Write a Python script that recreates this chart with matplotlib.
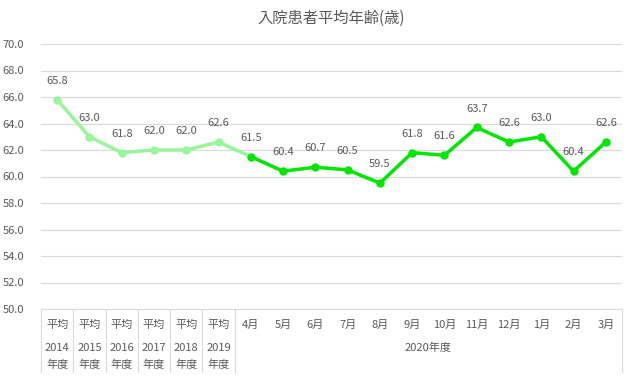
"""
入院患者平均年齢 line chart (annual averages + monthly FY2020).
"""

import matplotlib
matplotlib.use("Agg")
import matplotlib.pyplot as plt
import matplotlib.transforms as mtransforms

plt.rcParams['font.family'] = ['Noto Sans CJK JP', 'DejaVu Sans']

# data
annual_years = ['2014', '2015', '2016', '2017', '2018', '2019']
annual_values = [65.8, 63.0, 61.8, 62.0, 62.0, 62.6]
months = ['4月', '5月', '6月', '7月', '8月', '9月', '10月', '11月', '12月',
          '1月', '2月', '3月']
month_values = [61.5, 60.4, 60.7, 60.5, 59.5, 61.8, 61.6, 63.7, 62.6,
                63.0, 60.4, 62.6]
group_label = '2020年度'
title = '入院患者平均年齢(歳)'

text_color = '#595959'
grid_color = '#d9d9d9'
light_green = '#99f599'
bright_green = '#00e600'
fs = 8

fig = plt.figure(figsize=(6.34, 3.8), dpi=100)
ax = fig.add_axes([41 / 634, 1 - 309 / 380, 581 / 634, 265 / 380])

n_a = len(annual_values)
xa = list(range(n_a))
xm = list(range(n_a, n_a + len(months)))
all_values = annual_values + month_values

# light segment runs up to the first month point
ax.plot(xa + [xm[0]], annual_values + [month_values[0]], color=light_green,
        lw=2.5, solid_capstyle='round', zorder=3)
ax.plot(xa, annual_values, 'o', color=light_green, ms=5, zorder=4)
ax.plot(xm, month_values, color=bright_green, lw=2.5, marker='o', ms=5,
        zorder=4)

for x, v in zip(xa + xm, all_values):
    ax.annotate(f'{v:.1f}', (x, v), xytext=(0, 10), textcoords='offset points',
                ha='center', va='bottom', fontsize=fs, color=text_color)

ax.set_xlim(-0.5, n_a + len(months) - 0.5)
ax.set_ylim(50, 70)
ax.set_yticks([50 + 2 * i for i in range(11)])
ax.set_yticklabels([f'{50 + 2 * i:.1f}' for i in range(11)])
ax.tick_params(axis='y', length=0, pad=12, labelsize=fs, labelcolor=text_color)
ax.set_xticks([])
ax.grid(axis='y', color=grid_color, lw=0.8)
ax.set_axisbelow(True)
for s in ['top', 'right', 'left']:
    ax.spines[s].set_visible(False)
ax.spines['bottom'].set_color(grid_color)

ax.set_title(title, fontsize=11, color=text_color, pad=15)

# multi-level category axis
trans = mtransforms.blended_transform_factory(ax.transData, ax.transAxes)
depth = -63 / 265
for xs in [-0.5] + [i + 0.5 for i in range(n_a)] + [n_a + len(months) - 0.5]:
    ax.plot([xs, xs], [0, depth], color=grid_color, lw=0.8, transform=trans,
            clip_on=False)

for x, yr in zip(xa, annual_years):
    ax.text(x, -0.06, '平均', transform=trans, ha='center', va='center',
            fontsize=fs, color=text_color)
    ax.text(x, -0.147, yr, transform=trans, ha='center', va='center',
            fontsize=fs, color=text_color)
    ax.text(x, -0.211, '年度', transform=trans, ha='center', va='center',
            fontsize=fs, color=text_color)
for x, m in zip(xm, months):
    ax.text(x, -0.06, m, transform=trans, ha='center', va='center',
            fontsize=fs, color=text_color)
ax.text((xm[0] + xm[-1]) / 2, -0.147, group_label, transform=trans,
        ha='center', va='center', fontsize=fs, color=text_color)

fig.savefig('out.png', dpi=100)
